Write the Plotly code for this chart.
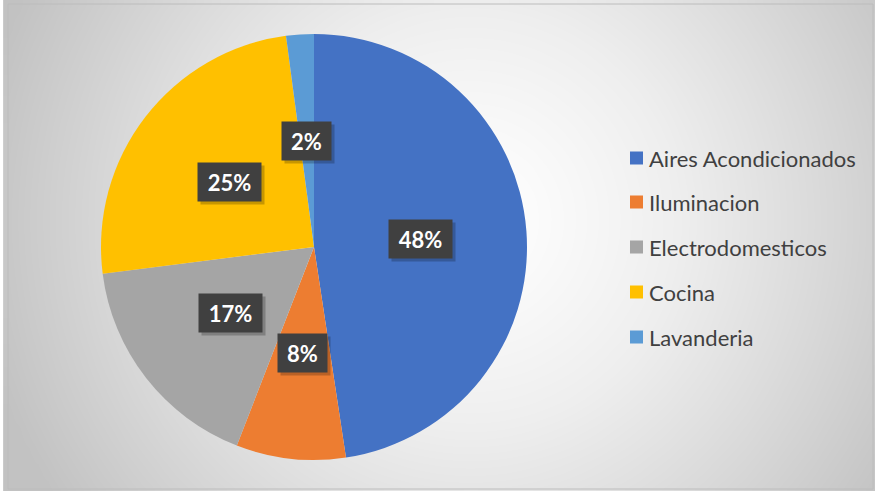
import numpy as np
import plotly.graph_objects as go

# Energy use by category (share of total, %)
categories = ["Aires Acondicionados", "Iluminacion", "Electrodomesticos", "Cocina", "Lavanderia"]
shares = [47.6, 8.3, 17.1, 24.9, 2.1]
colors = ["#4472C4", "#ED7D31", "#A5A5A5", "#FFC000", "#5B9BD5"]

W, H = 875, 491
# chart frame (pixels)
FX0, FY0, FX1, FY1 = 8, 4, 873, 489
# pie geometry (pixels)
CX, CY, R = 314, 247, 213
FONT = "Lato, 'Open Sans', sans-serif"

fig = go.Figure()

# radial grey background behind the pie
gx = np.linspace(FX0, FX1, 90)
gy = np.linspace(FY0, FY1, 60)
XX, YY = np.meshgrid(gx, gy)
bx, by = 470, 220
dist = np.sqrt((XX - bx) ** 2 + (YY - by) ** 2) / 500.0
fig.add_trace(go.Heatmap(
    x=gx, y=gy, z=np.clip(dist, 0, 1) ** 1.2,
    colorscale=[[0, "#ffffff"], [0.35, "#eeeeee"], [1, "#c2c2c2"]],
    zmin=0, zmax=1, zsmooth="best", showscale=False, hoverinfo="skip",
))

fig.add_trace(go.Pie(
    labels=categories, values=shares,
    marker=dict(colors=colors, line=dict(width=0)),
    sort=False, direction="clockwise", rotation=0,
    textinfo="none", hoverinfo="label+percent", showlegend=False,
    domain=dict(x=[(CX - R) / W, (CX + R) / W],
                y=[(H - CY - R) / H, (H - CY + R) / H]),
))

shapes = []
annotations = []

# chart frame border
shapes.append(dict(type="rect", xref="paper", yref="paper",
                   x0=FX0 / W, x1=FX1 / W, y0=1 - FY1 / H, y1=1 - FY0 / H,
                   line=dict(color="#bcbcbc", width=1), layer="above"))

# percentage labels at half radius along each slice's mid angle
total = sum(shares)
cum = 0.0
for v in shares:
    theta = 2 * np.pi * (cum + v / 2) / total
    cum += v
    px = CX + 0.5 * R * np.sin(theta)
    py = CY - 0.5 * R * np.cos(theta)
    txt = f"{round(100 * v / total)}%"
    bw = 14 * len(txt) + 21
    # drop shadow
    annotations.append(dict(x=(px + 3) / W, y=1 - (py + 3) / H, xref="paper", yref="paper",
                            xanchor="center", yanchor="middle",
                            text=" ", showarrow=False, width=bw, height=38,
                            bgcolor="rgba(0,0,0,0.22)", borderpad=0))
    annotations.append(dict(x=px / W, y=1 - py / H, xref="paper", yref="paper",
                            xanchor="center", yanchor="middle",
                            text=f"<b>{txt}</b>", showarrow=False, width=bw, height=38,
                            bgcolor="#404040", borderpad=0,
                            font=dict(family=FONT, size=22, color="#ffffff")))

# legend panel
LX0, LY0, LX1, LY1 = 617, 135, 868, 360
shapes.append(dict(type="rect", xref="paper", yref="paper",
                   x0=LX0 / W, x1=LX1 / W, y0=1 - LY1 / H, y1=1 - LY0 / H,
                   fillcolor="rgba(255,255,255,0.65)", line=dict(width=0), layer="below"))
row_y = [158, 202, 247, 292, 337]
for name, col, ry in zip(categories, colors, row_y):
    shapes.append(dict(type="rect", xref="paper", yref="paper",
                       x0=630 / W, x1=643 / W, y0=1 - (ry + 6.5) / H, y1=1 - (ry - 6.5) / H,
                       fillcolor=col, line=dict(width=0)))
    annotations.append(dict(x=647 / W, y=1 - ry / H, xref="paper", yref="paper",
                            text=name, showarrow=False, xanchor="left", yanchor="middle",
                            font=dict(family=FONT, size=22, color="#404040")))

fig.update_layout(
    width=W, height=H,
    margin=dict(l=0, r=0, t=0, b=0),
    paper_bgcolor="#ffffff", plot_bgcolor="rgba(0,0,0,0)",
    xaxis=dict(range=[0, W], domain=[0, 1], visible=False, fixedrange=True),
    yaxis=dict(range=[H, 0], domain=[0, 1], visible=False, fixedrange=True),
    shapes=shapes, annotations=annotations,
    showlegend=False,
)

fig.write_html("out.html")
